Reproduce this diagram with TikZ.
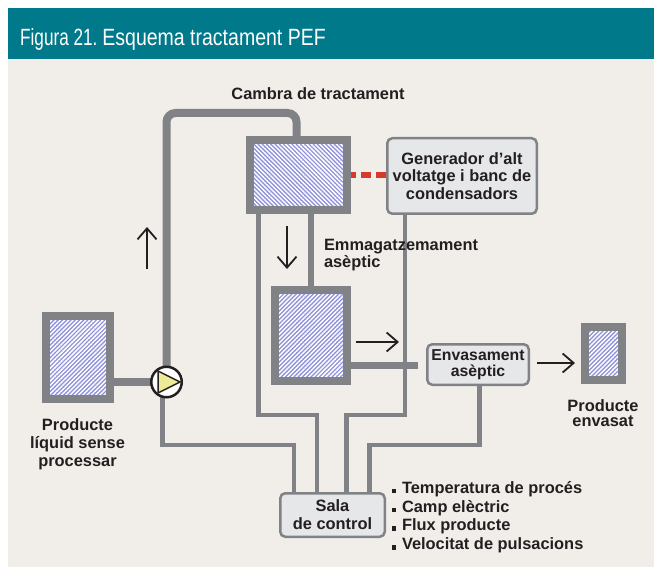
\documentclass[tikz,border=0pt]{standalone}
\usepackage{fontspec}
\setmainfont{Liberation Sans}
\usepackage{graphicx}
\usetikzlibrary{calc,arrows.meta,patterns.meta,backgrounds}
\definecolor{hdr}{HTML}{00798B}
\definecolor{bgc}{HTML}{F1EEEA}
\definecolor{pipe}{HTML}{808285}
\definecolor{hatch}{HTML}{8F91D9}
\definecolor{boxfill}{HTML}{E6E7E8}
\definecolor{reddash}{HTML}{D63A2A}
\definecolor{ink}{HTML}{231F20}
\definecolor{pumpyel}{HTML}{EEEB97}
\newcommand\mybullet{\rule{4pt}{4.5pt}\hspace{6pt}}
\begin{document}
\begin{tikzpicture}[x=1pt,y=-1pt,
  tank/.style={draw=pipe, line width=8pt, preaction={fill=hatch},
    pattern={Lines[angle=45,distance=3pt,line width=1.45pt]}, pattern color=white,
    inner sep=0pt, outer sep=0pt},
  tankb/.style={tank, pattern={Lines[angle=-45,distance=3pt,line width=1.45pt]}},
  box/.style={draw=pipe, line width=2.5pt, fill=boxfill, rounded corners=5pt,
    inner sep=0pt, outer sep=0pt, align=center, text=ink},
  lbl/.style={inner sep=0pt, outer sep=0pt, text=ink},
  mainpipe/.style={draw=pipe, line width=8pt},
  linkpipe/.style={draw=pipe, line width=6pt},
  outpipe/.style={draw=pipe, line width=7.5pt},
  ctrl/.style={draw=pipe, line width=4.5pt},
  reddashline/.style={draw=reddash, line width=5.5pt, dash pattern=on 10pt off 5pt, dash phase=1pt},
  flow/.style={draw=ink, line width=1.8pt, -{Straight Barb[length=11pt,width=19pt]}},
  every node/.append style={font=\bfseries\fontsize{16.4}{17.5}\selectfont}
]
\path[use as bounding box] (0,0) rectangle (654,567);

% tanks
\node[tankb, minimum width=97pt, minimum height=70pt] (chamber) at (298.5,175) {};
\node[tank, minimum width=72pt, minimum height=91pt] (storage) at (311,335.5) {};
\node[tank, minimum width=64pt, minimum height=83pt] (src) at (78,357.5) {};
\node[tank, minimum width=37pt, minimum height=53pt] (envasat) at (603.5,353.5) {};

% boxes
\node[box, minimum width=149.5pt, minimum height=75.5pt] (gen) at (462,176)
  {Generador d’alt\\voltatge i banc de\\condensadors};
\node[box, minimum width=101.5pt, minimum height=40.5pt, font=\bfseries\fontsize{15.8}{16.5}\selectfont] (env) at (478,364.5)
  {Envasament\\asèptic};
\node[box, minimum width=104.5pt, minimum height=43.5pt, font=\bfseries\fontsize{16.4}{18}\selectfont] (sala) at (332.5,515)
  {Sala\\de control};

% pump
\node[circle, draw=ink, line width=2.5pt, fill=white, minimum size=30.5pt, inner sep=0pt] (pump) at (166.5,382) {};
\draw[draw=ink, line width=1.5pt, fill=pumpyel, line join=round]
  ($(pump.center)+(-8.5,-11)$) -- ($(pump.center)+(13.5,0)$) -- ($(pump.center)+(-8.5,11)$) -- cycle;

% labels
\node[lbl, anchor=base] (cambra) at (318,100) {Cambra de tractament};
\node[lbl, anchor=north west, align=left] (emm) at (324,239.2) {Emmagatzemament\\asèptic};
\node[lbl, anchor=north, align=center, font=\bfseries\fontsize{16.4}{18}\selectfont] (srclbl) at (77.5,418.2)
  {Producte\\líquid sense\\processar};
\node[lbl, anchor=north, align=center, font=\bfseries\fontsize{16.4}{15.5}\selectfont] (envlbl) at (603,399.5)
  {Producte\\envasat};
\node[lbl, anchor=north west, align=left, font=\bfseries\fontsize{16.4}{18.8}\selectfont] (params) at (392,481.2)
  {\mybullet Temperatura de procés\\\mybullet Camp elèctric\\\mybullet Flux producte\\\mybullet Velocitat de pulsacions};

% title
\node[anchor=base west, inner sep=0pt, text=white, font=\fontsize{23.5}{26}\selectfont] (title) at (20,46)
  {\scalebox{0.73}[1]{Figura 21.}\hspace{5pt}\scalebox{0.83}[1]{Esquema tractament PEF}};

% flow arrows
\coordinate (envarrow) at ($(env.east)+(8,-1.5)$);
\draw[flow] (147,269) -- (147,227);
\draw[flow] (287,226) -- (287,269);
\draw[flow] (356,342) -- (399,342);
\draw[flow] (envarrow) -- ($(envarrow -| envasat.west)+(-10,0)$);

\begin{scope}[on background layer]
  \fill[bgc] (8,59) rectangle (654,567);
  \fill[hdr] (8,8) rectangle (654,59);
  \coordinate (ctop) at (296.5,113);
  \coordinate (h1) at (0,445);
  \coordinate (h2) at (0,415);
  \coordinate (s1) at ($(sala.north)+(-38.5,0)$);
  \coordinate (s2) at ($(sala.north)+(-15.5,0)$);
  \coordinate (s3) at ($(sala.north)+(14,0)$);
  \coordinate (s4) at ($(sala.north)+(37,0)$);
  \coordinate (outend) at (418,365.5);
  % main loop
  \draw[mainpipe] (src.center |- pump.center) -- (pump.center);
  \draw[mainpipe, rounded corners=9pt] (pump.center) |- (ctop) -- (ctop |- chamber.center);
  % chamber to storage
  \draw[linkpipe] (storage.north |- chamber.center) -- (storage.center);
  % storage output
  \draw[outpipe] (storage.center |- outend) -- (outend);
  % red dashed link
  \draw[reddashline] (chamber.east) -- (chamber.east -| gen.west);
  % control lines
  \draw[ctrl] ($(pump.center)+(-4,0)$) |- (s1 |- h1) -- (s1);
  \draw[ctrl] ($(chamber.south west)+(8.5,0)$) |- (s2 |- h2) -- (s2);
  \draw[ctrl] ($(gen.south west)+(17.75,0)$) |- (s3 |- h2) -- (s3);
  \draw[ctrl] ($(env.south)+(1.5,0)$) |- (s4 |- h1) -- (s4);
\end{scope}
\end{tikzpicture}
\end{document}
